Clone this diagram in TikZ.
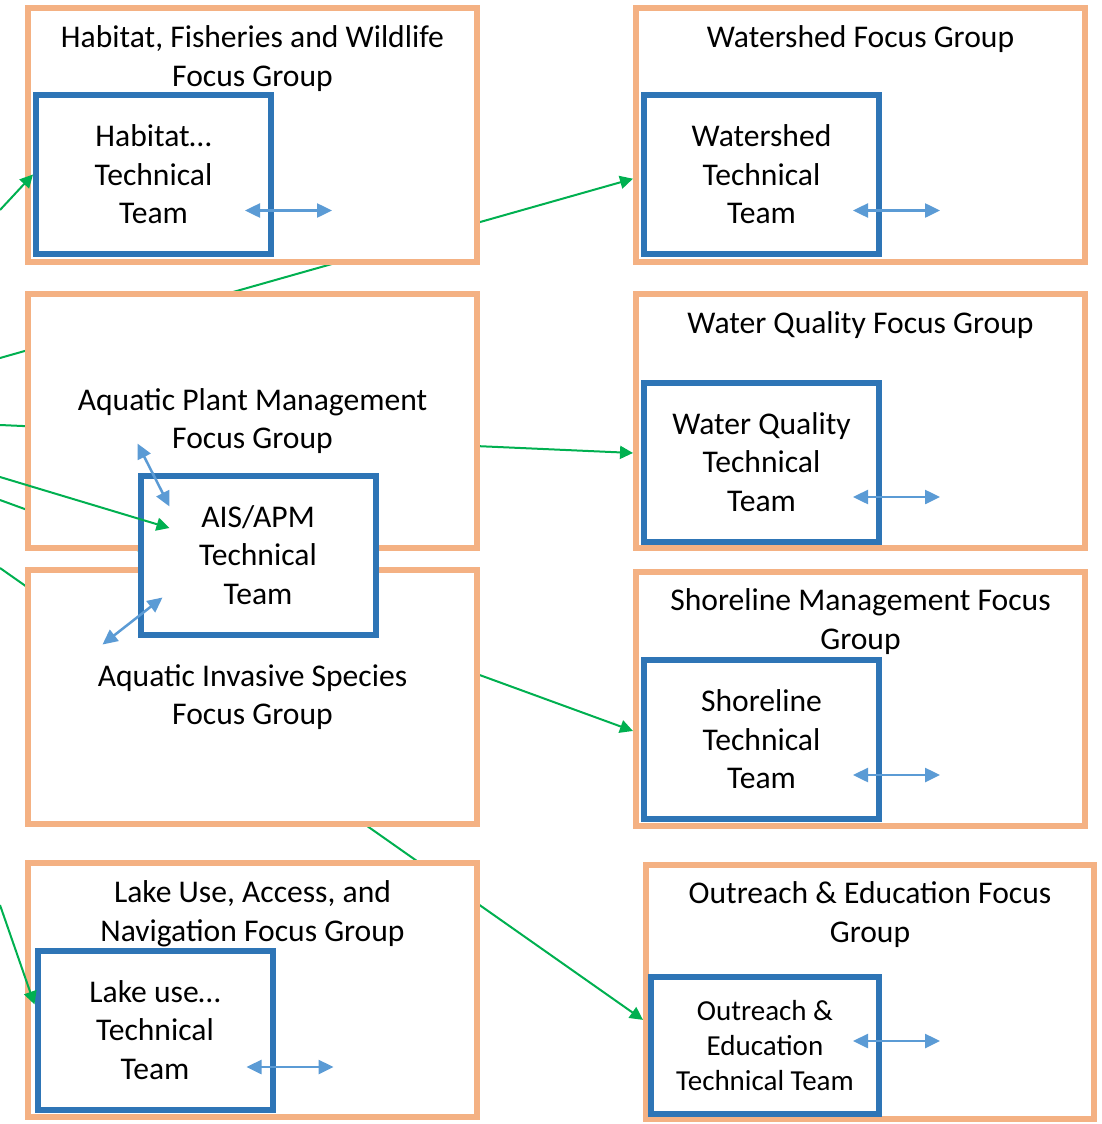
\documentclass[tikz,border=0pt]{standalone}
\usepackage{fontspec}
\setmainfont{Carlito}
\usetikzlibrary{arrows.meta}

\definecolor{grporange}{HTML}{F4B183}
\definecolor{teamblue}{HTML}{2E75B6}
\definecolor{linkblue}{HTML}{5B9BD5}
\definecolor{flowgreen}{HTML}{00B050}
\newcommand\grpfont{\fontsize{15.8}{19.3}\selectfont}
\newcommand\smallteamfont{\fontsize{14.5}{17.5}\selectfont}

\tikzset{
  grp/.style={draw=grporange,line width=3pt,fill=white,minimum width=224.5pt,minimum height=127pt,inner sep=0pt},
  grpanchor/.style={minimum width=224.5pt,minimum height=127pt,inner sep=0pt,outer sep=1.5pt},
  team/.style={draw=teamblue,line width=3pt,fill=white,minimum width=117.5pt,minimum height=79.5pt,inner sep=0pt,align=center,font=\grpfont},
  title/.style={anchor=base,align=center,font=\grpfont,inner sep=0pt},
  flow/.style={draw=flowgreen,line width=1pt,-{Triangle[length=6.5pt,width=6.5pt]}},
  link/.style={draw=linkblue,line width=1.25pt,{Triangle[length=7.5pt,width=7pt]}-{Triangle[length=7.5pt,width=7pt]}}
}

\begin{document}
\begin{tikzpicture}[x=0.5pt,y=-0.5pt]
\useasboundingbox (0,0) rectangle (1102,1124);
% loose ends coming in from the left
\coordinate (hfin) at (0,210);
\coordinate (wsin) at (0,358);
\coordinate (wqin) at (0,425);
\coordinate (apin) at (0,477);
\coordinate (smin) at (0,500);
\coordinate (oein) at (0,568);
\coordinate (luin) at (0,905);
% green lines that run behind the boxes (anchors of the right groups first)
\node[grpanchor] (wsa) at (860.5,134.5) {};
\node[grpanchor] (wqa) at (860.5,421) {};
\node[grpanchor] (sma) at (860.5,699) {};
\node[grpanchor,minimum width=224pt] (oea) at (870,992) {};
\draw[flow] (wsin) -- (wsa.191.5);
\draw[flow] (wqin) -- (wqa.188.5);
\draw[flow] (smin) -- (sma.188.5);
\draw[flow] (oein) -- (oea.187);
% group boxes
\node[grp] (hfg) at (252.5,134.5) {};
\node[grp] (wsg) at (860.5,134.5) {};
\node[grp] (apg) at (252.5,421) {};
\node[grp] (wqg) at (860.5,421) {};
\node[grp] (aig) at (252.5,697) {};
\node[grp] (smg) at (860.5,699) {};
\node[grp] (lug) at (252.5,990) {};
\node[grp,minimum width=224pt] (oeg) at (870,992) {};
% group titles
\node[title] (hft0) at ([yshift=-40.8pt]hfg.north) {Habitat, Fisheries and Wildlife\\Focus Group};
\node[title] (wst0) at ([yshift=-21.5pt]wsg.north) {Watershed Focus Group};
\node[title] (wqt0) at ([yshift=-21pt]wqg.north) {Water Quality Focus Group};
\node[title] (smt0) at ([yshift=-40pt]smg.north) {Shoreline Management Focus\\Group};
\node[title] (lut0) at ([yshift=-40.5pt]lug.north) {Lake Use, Access, and\\Navigation Focus Group};
\node[title] (oet0) at ([yshift=-40pt]oeg.north) {Outreach \& Education Focus\\Group};
\node[align=center,font=\grpfont] (apt0) at (apg.center) {Aquatic Plant Management\\Focus Group};
\node[align=center,font=\grpfont] (ait0) at (aig.center) {Aquatic Invasive Species\\Focus Group};
% technical teams
\node[team] (hft) at (153.5,174.5) {Habitat…\\Technical\\Team};
\node[team] (wst) at (761.5,174.5) {Watershed\\Technical\\Team};
\node[team] (wqt) at (761.5,462) {Water Quality\\Technical\\Team};
\node[team] (smt) at (761.5,739.5) {Shoreline\\Technical\\Team};
\node[team] (apt) at (258,555) {AIS/APM\\Technical\\Team};
\node[team] (lut) at (155,1030) {Lake use…\\Technical\\Team};
\node[team,minimum width=114pt,minimum height=68.5pt,font=\smallteamfont] (oet) at (765,1045.5) {Outreach \&\\Education\\Technical Team};
% green lines on top
\draw[flow] (hfin) -- (hft.west);
\draw[flow] (apin) -- ([shift={(32,-27)}]apt.west);
\draw[flow] (luin) -- (lut.168);
% blue two-way links
\foreach \t/\dy in {hft/36,wst/36,wqt/35,smt/35.5,lut/37,oet/-4.5}
  \draw[link] ([shift={(-29,\dy)}]\t.east) -- ([shift={(58,\dy)}]\t.east);
\draw[link] ([shift={(0,-29)}]apt.north west) -- ([shift={(32,34)}]apt.north west);
\draw[link] ([shift={(-35,7)}]apt.south west) -- ([shift={(25,-40)}]apt.south west);
\end{tikzpicture}
\end{document}
